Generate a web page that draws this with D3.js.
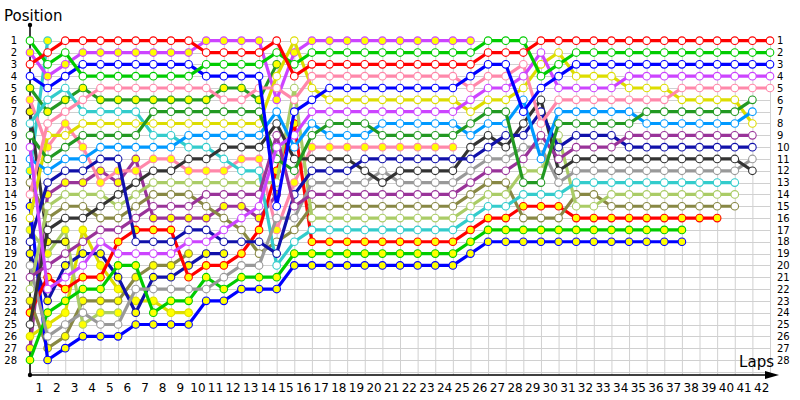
<!DOCTYPE html>
<html lang="en">
<head>
<meta charset="UTF-8">
<title>Lap chart</title>
<script src="https://cdn.jsdelivr.net/npm/d3@7"></script>
<style>
  body { margin: 0; background: #fff; }
  svg { display: block; }
</style>
</head>
<body>
<script>
// drivers: code, line colour, marker fill
var driverCodes = ["R","G","B","M","P","DG","LB","Y","PU","DB","DK","GR","C","LG","O",
                   "Ry","Gy","By","My","Py","DGy","DKy","Cy","LGy","DBy","Oy","Yy","PUy"];
var lineColors  = ["#ff0000","#00cc00","#0000ff","#cc44ff","#ff88aa","#229922","#0099ff","#dddd00","#993399","#1111aa","#333333","#999999","#33cccc","#aacc66","#888844",
                   "#ff0000","#00cc00","#0000ff","#cc44ff","#ff88aa","#229922","#333333","#33cccc","#aacc66","#1111aa","#888844","#dddd00","#993399"];
var markerFills = ["#fff","#fff","#fff","#fff","#fff","#fff","#fff","#fff","#fff","#fff","#fff","#fff","#fff","#fff","#fff",
                   "#ffff00","#ffff00","#ffff00","#ffff00","#ffff00","#ffff00","#ffff00","#ffff00","#ffff00","#ffff00","#ffff00","#ffff00","#ffff00"];

// running order after each lap (lap 0 = grid), first = position 1
var runningOrder = [
  "G My R B DGy Py DKy C DG M LB Cy O P By Y LGy DB DBy GR PU LG Oy Ry DK Yy PUy Gy",
  "Cy R G My B C DGy P Y Py DG LB DB PUy LG O DK DKy LGy PU Ry M DBy Gy Yy GR Oy By",
  "R G My B C DGy P Py Y DG LB DB PUy LG O DK LGy DKy PU DBy M Ry Gy Yy GR Oy By",
  "R My B G DGy P C Y DG Py LB DB PUy LG O DK Yy PU DBy M Ry Gy Oy GR LGy By",
  "R My B G P DGy C Y DG LB DB PUy Py LG DK O PU M DBy Yy Ry Gy Oy LGy GR By",
  "R My B G P DGy C Y DG LB DB Py PUy DK LG O PU Ry M Gy DBy Yy Oy LGy GR By",
  "R My B G P DGy C Y DG LB PUy Py DK LG O PU Ry DB M Gy Oy GR Yy DBy By",
  "R My B G P DGy DG Y C LB Py DK LG O PU PUy Ry DB M Oy DBy GR Yy Gy By",
  "R My B G P DGy DG Y C LB Py DK LG O PU PUy Ry DB M Oy DBy GR Gy Yy By",
  "R My B G P DGy DG Y LB C DK Py LG O PU PUy DB M Oy DBy Ry GR Gy Yy By",
  "My R G B P DGy DG Y LB C DK Py LG PU O PUy DB M DBy Ry Gy GR By",
  "My R G B DGy P DG Y LB DK C Py LG PU PUy O M DB DBy Ry GR Gy By",
  "My R G B DGy P DG Y LB DK Py C LG PU PUy M O DB Ry GR Gy By",
  "My R G B P DGy DG Y LB DK Py C LG PU M PUy Ry DB O GR Gy By",
  "R G DGy Y P My LB DK PU M DG Ry LG PUy B GR Py O DB C Gy By",
  "Y My G R LG P B Ry M LB DK DG Py DB PU GR O C Gy By",
  "My G R P Y B M LB DG Py DK DB GR PU O LG C Ry Gy By",
  "My G R P B Y M DG LB Py DK DB GR PU O LG C Ry Gy By",
  "My G R P B Y M DG LB Py DK DB GR PU O LG C Ry Gy By",
  "My G R P B Y M DG LB Py DB DK GR PU O LG C Ry Gy By",
  "My G R P B Y M LB DG Py DB GR DK PU O LG C Ry Gy By",
  "My G R P B Y M LB DG Py DB DK GR PU O LG C Ry Gy By",
  "My G R P B Y M LB DG Py DB DK GR PU O LG C Ry Gy By",
  "My G R P B Y M LB DG Py DB DK GR PU O LG C Ry Gy By",
  "My G R P B Y M LB DG Py DB DK GR PU O LG C Ry Gy By",
  "My G R B P M Y DG LB DK DB GR PU O LG C Ry Gy By",
  "G R B P M Y DG LB DK DB GR PU O LG C Ry Gy By",
  "G R B P M Y DG LB DB DK GR PU O LG C Ry Gy By",
  "G R P M Y LB B DK DB GR PU LG DG C Ry O Gy By",
  "R M Y G B DK DB P PU GR LB LG DG C Ry O Gy By",
  "R Y G B M P LB DG LG DB PU DK GR C Ry O Gy By",
  "R G B Y M P LB DG DB PU DK GR C O LG Ry Gy By",
  "R G B Y M P LB DG DB PU DK GR C O LG Ry Gy By",
  "R G B Y M P LB DG DB PU DK GR C LG O Ry Gy By",
  "R G B M Y P LB DG PU DB DK GR C LG O Ry Gy By",
  "R G B M Y P DG LB PU DB DK GR C LG O Ry Gy By",
  "R G B M Y P DG LB PU DB DK GR C LG O Ry Gy By",
  "R G B M P Y DG LB PU DB DK GR C LG O Ry Gy By",
  "R G B M P Y DG LB PU DB DK GR C LG O Ry",
  "R G B M P Y DG LB PU DB DK GR C LG O Ry",
  "R G B M P Y DG LB PU DB DK GR C LG O",
  "R G B M P DG LB Y PU DB GR DK",
  "R G B M P"
];

var lapLabels = d3.range(1, 43);
var positionLabels = d3.range(1, 29);

var width = 800, height = 400;
var svg = d3.select("body").append("svg").attr("width", width).attr("height", height)
    .style("font-family", "'DejaVu Sans', Verdana, sans-serif");

var x = d3.scaleLinear().domain([0, 42]).range([30, 770]);
var y = d3.scaleLinear().domain([1, 28]).range([40.7, 360]);
var axisY = 375;

// position of each driver on each lap
var series = driverCodes.map(function(code, i) {
    var pts = [];
    runningOrder.forEach(function(row, lap) {
        var p = row.split(" ").indexOf(code);
        if (p >= 0) pts.push({lap: lap, pos: p + 1});
    });
    return {code: code, color: lineColors[i], fill: markerFills[i], points: pts};
});

// grid
var grid = svg.append("g").attr("stroke", "#d0d0d0").attr("stroke-width", 1);
grid.selectAll("line.v").data(d3.range(0, 43)).enter().append("line")
    .attr("x1", function(d){ return x(d) + 0.5; }).attr("x2", function(d){ return x(d) + 0.5; })
    .attr("y1", y(1)).attr("y2", axisY);
grid.selectAll("line.h").data(d3.range(1, 30)).enter().append("line")
    .attr("x1", x(0)).attr("x2", x(42))
    .attr("y1", function(d){ return Math.round(y(d)) + 0.5; })
    .attr("y2", function(d){ return Math.round(y(d)) + 0.5; });

// axes
svg.append("line").attr("x1", x(0)).attr("x2", 772).attr("y1", axisY).attr("y2", axisY)
    .attr("stroke", "#000").attr("stroke-width", 1.5);
svg.append("path").attr("d", "M765,371 L779,375 L765,379 Z").attr("fill", "#000");
svg.append("line").attr("x1", x(0)).attr("x2", x(0)).attr("y1", axisY).attr("y2", 25)
    .attr("stroke", "#000").attr("stroke-width", 1.5);
svg.append("circle").attr("cx", x(0)).attr("cy", 25).attr("r", 2.2).attr("fill", "#000");
svg.append("circle").attr("cx", x(0)).attr("cy", axisY).attr("r", 2.2).attr("fill", "#000");

var xAxis = d3.axisBottom(x).tickValues(lapLabels.map(function(d){ return d - 0.5; }))
    .tickFormat(function(d){ return d + 0.5; }).tickSize(0).tickPadding(8);
var gx = svg.append("g").attr("transform", "translate(0," + axisY + ")").call(xAxis);
gx.select(".domain").remove();
gx.selectAll("text").attr("font-size", 12).attr("fill", "#000")
    .style("font-family", "'DejaVu Sans', Verdana, sans-serif");

var gyl = svg.append("g").attr("transform", "translate(17,0)")
    .call(d3.axisLeft(y).tickValues(positionLabels).tickFormat(d3.format("d")).tickSize(0).tickPadding(0));
var gyr = svg.append("g").attr("transform", "translate(777,0)")
    .call(d3.axisRight(y).tickValues(positionLabels).tickFormat(d3.format("d")).tickSize(0).tickPadding(0));
[gyl, gyr].forEach(function(g){
    g.select(".domain").remove();
    g.selectAll("text").attr("font-size", 10).attr("fill", "#000")
        .style("font-family", "'DejaVu Sans', Verdana, sans-serif");
});

svg.append("text").attr("x", 4).attr("y", 21).attr("font-size", 15).text("Position");
svg.append("text").attr("x", 774).attr("y", 367).attr("text-anchor", "end").attr("font-size", 15).text("Laps");

// series: draw back-to-front so leaders sit on top
var line = d3.line().x(function(d){ return x(d.lap); }).y(function(d){ return y(d.pos); });
var order = series.slice().reverse();
var gSeries = svg.selectAll("g.series").data(order).enter().append("g").attr("class", "series");
gSeries.append("path")
    .attr("d", function(d){ return line(d.points); })
    .attr("fill", "none")
    .attr("stroke", function(d){ return d.color; })
    .attr("stroke-width", 3.2)
    .attr("stroke-linejoin", "round");
gSeries.selectAll("circle").data(function(d){ return d.points.map(function(p){ return {p: p, s: d}; }); })
    .enter().append("circle")
    .attr("cx", function(d){ return x(d.p.lap); })
    .attr("cy", function(d){ return y(d.p.pos); })
    .attr("r", 3.8)
    .attr("fill", function(d){ return d.s.fill; })
    .attr("stroke", function(d){ return d.s.color; })
    .attr("stroke-width", 1.1);
</script>
</body>
</html>
